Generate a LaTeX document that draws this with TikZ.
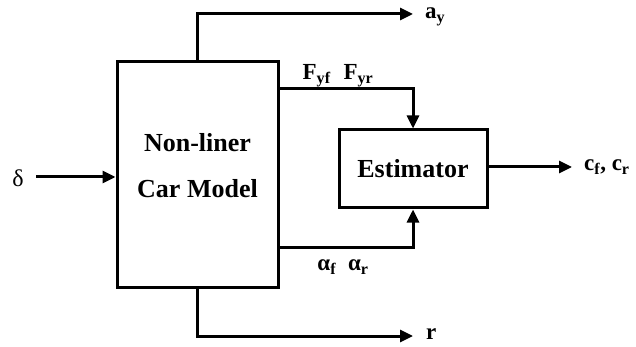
\documentclass[tikz,border=0pt]{standalone}
\usepackage{fontspec}
\setmainfont{Liberation Serif}
\usetikzlibrary{arrows.meta}
\begin{document}
\begin{tikzpicture}[x=1pt,y=-1pt,
  blk/.style={draw,line width=3pt,inner sep=0pt},
  txt/.style={inner sep=0pt,font=\bfseries\fontsize{26}{46}\selectfont,align=center},
  wire/.style={line width=3pt},
  arr/.style={wire,-{Triangle[length=13pt,width=12pt]}},
  lbl/.style={inner sep=0pt,font=\bfseries\fontsize{23}{26}\selectfont}]
\useasboundingbox (0,0) rectangle (636,347);
\node[blk,minimum width=161pt,minimum height=225pt] (main) at (197.5,174.5) {};
\node[txt] (maintxt) at (197.5,166) {Non-liner\\Car Model};
\node[blk,txt,minimum width=148pt,minimum height=78pt] (est) at (413,169) {Estimator};
\coordinate (ayend) at (413,14);
\coordinate (rend) at (413,336);
\coordinate (din) at (36,177);
\coordinate (outend) at (572,167);
\coordinate (fstart) at (278,89);
\coordinate (astart) at (278,247);
\node[lbl,anchor=west] (ay) at (425,17) {a\textsubscript{y}};
\node[lbl,anchor=west] (r) at (426,334) {r};
\node[inner sep=0pt,font=\fontsize{24}{26}\selectfont] (delta) at (18,178) {δ};
\node[lbl,anchor=west] (cc) at (584,167) {c\textsubscript{f}, c\textsubscript{r}};
\node[lbl] (fy) at (338,76) {F\textsubscript{yf}\hspace{13pt}F\textsubscript{yr}};
\node[lbl] (al) at (343,267) {α\textsubscript{f}\hspace{12pt}α\textsubscript{r}};
\draw[arr] (main.north) |- (ayend);
\draw[arr] (main.south) |- (rend);
\draw[arr] (din) -- (din -| main.west);
\draw[arr] (fstart) -| (est.north);
\draw[arr] (astart) -| (est.south);
\draw[arr] (est.east |- outend) -- (outend);
\end{tikzpicture}
\end{document}
